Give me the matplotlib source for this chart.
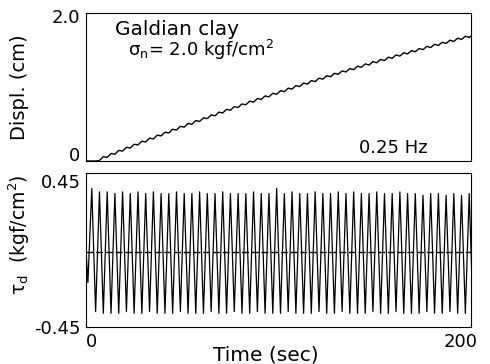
import matplotlib
matplotlib.use("Agg")
import matplotlib.pyplot as plt
import matplotlib.transforms as mtransforms

# --- data ---
# displacement (cm), sampled every 2 s from t=5 s, wiggle included
disp_time = [0] + list(range(5, 200, 2)) + [200]
disp_cm = [0.0,
    0.000, 0.007, 0.058, 0.049, 0.101, 0.092, 0.143, 0.134, 0.185, 0.175,
    0.226, 0.217, 0.267, 0.258, 0.308, 0.298, 0.349, 0.339, 0.389, 0.379,
    0.429, 0.418, 0.468, 0.458, 0.507, 0.497, 0.546, 0.535, 0.584, 0.573,
    0.622, 0.611, 0.660, 0.649, 0.698, 0.686, 0.735, 0.723, 0.771, 0.760,
    0.808, 0.796, 0.844, 0.832, 0.879, 0.867, 0.915, 0.902, 0.950, 0.937,
    0.984, 0.972, 1.019, 1.006, 1.053, 1.039, 1.086, 1.073, 1.119, 1.106,
    1.152, 1.139, 1.185, 1.171, 1.217, 1.203, 1.249, 1.235, 1.281, 1.266,
    1.312, 1.297, 1.343, 1.328, 1.373, 1.358, 1.403, 1.388, 1.433, 1.418,
    1.463, 1.447, 1.492, 1.476, 1.520, 1.505, 1.549, 1.533, 1.577, 1.561,
    1.605, 1.588, 1.632, 1.616, 1.659, 1.643, 1.686, 1.669,
    1.690]

# shear stress peaks / troughs per cycle (kgf/cm2), 0.25 Hz
tau_peaks = [0.36, 0.34, 0.34, 0.33, 0.34, 0.33, 0.34, 0.33, 0.34, 0.33,
             0.33, 0.34, 0.33, 0.33, 0.34, 0.33, 0.33, 0.34, 0.33, 0.33,
             0.33, 0.34, 0.33, 0.33, 0.36, 0.33, 0.34, 0.33, 0.33, 0.34,
             0.33, 0.33, 0.34, 0.33, 0.34, 0.33, 0.33, 0.34, 0.33, 0.33,
             0.34, 0.33, 0.33, 0.32, 0.33, 0.33, 0.32, 0.33, 0.32, 0.33]
tau_troughs = [-0.36, -0.37, -0.37, -0.37, -0.36, -0.37, -0.37, -0.36, -0.37, -0.37,
               -0.37, -0.36, -0.37, -0.37, -0.37, -0.36, -0.37, -0.37, -0.36, -0.37,
               -0.37, -0.36, -0.37, -0.37, -0.37, -0.36, -0.37, -0.37, -0.37, -0.36,
               -0.37, -0.37, -0.36, -0.37, -0.37, -0.37, -0.36, -0.37, -0.37, -0.36,
               -0.37, -0.37, -0.37, -0.36, -0.37, -0.37, -0.36, -0.37, -0.37, -0.38]

tau_time = [0, 1] + list(range(3, 202, 2))
tau_vals = [0.0, -0.19]
for p, q in zip(tau_peaks, tau_troughs):
    tau_vals += [p, q]

fig = plt.figure(figsize=(4.9, 3.64), dpi=100)
plt.rcParams['font.family'] = 'DejaVu Sans'

ax1 = fig.add_axes([0.1755, 0.5577, 0.786, 0.4066])
ax2 = fig.add_axes([0.1755, 0.1016, 0.786, 0.423])

def nudge(label, dx, dy):
    # shift a tick label by dx, dy pixels
    label.set_transform(label.get_transform() +
                        mtransforms.ScaledTranslation(dx / 100, dy / 100, fig.dpi_scale_trans))

# top: displacement
ax1.plot(disp_time, disp_cm, color='black', lw=1.0)
ax1.set_xlim(0, 200)
ax1.set_ylim(0, 2.0)
ax1.set_yticks([0, 2.0])
ax1.set_yticklabels(['0', '2.0'])
ax1.set_xticks([])
ax1.tick_params(axis='y', direction='in', length=2, labelsize=13, pad=4)
lab0, lab2 = ax1.get_yticklabels()
lab0.set_va('bottom')
nudge(lab0, 0, -4)
nudge(lab2, 0, -3)
ax1.text(0.075, 0.955, 'Galdian clay', transform=ax1.transAxes, fontsize=14.5, va='top')
ax1.text(0.109, 0.83, 'σ$_\\mathrm{n}$= 2.0 kgf/cm$^2$', transform=ax1.transAxes,
         fontsize=13, va='top')
ax1.text(0.886, 0.054, '0.25 Hz', transform=ax1.transAxes, fontsize=13,
         ha='right', va='baseline')
ax1.set_ylabel('Displ. (cm)', fontsize=14)
ax1.yaxis.set_label_coords(-0.148, 0.5)

# bottom: cyclic shear stress
ax2.plot(tau_time, tau_vals, color='black', lw=0.9)
ax2.axhline(-0.01, color='black', lw=1.0, dashes=(5, 2))
ax2.set_xlim(0, 200)
ax2.set_ylim(-0.45, 0.45)
ax2.set_yticks([-0.45, 0.45])
ax2.set_yticklabels(['-0.45', '0.45'])
ax2.set_xticks([0, 200])
ax2.set_xticklabels(['0', '200'])
ax2.tick_params(direction='in', length=2, labelsize=13, pad=4)
ax2.get_xticklabels()[0].set_ha('left')
nudge(ax2.get_xticklabels()[1], -11, 0)
ax2.get_yticklabels()[1].set_va('top')
nudge(ax2.get_yticklabels()[1], 0, -1)
ax2.set_ylabel('τ$_\\mathrm{d}$  (kgf/cm$^2$)', fontsize=13.5)
ax2.yaxis.set_label_coords(-0.14, 0.597)
ax2.set_xlabel('Time (sec)', fontsize=14.5)
ax2.xaxis.set_label_coords(0.468, -0.117)

for ax in (ax1, ax2):
    for s in ax.spines.values():
        s.set_linewidth(0.8)

fig.savefig('out.png', dpi=100)
